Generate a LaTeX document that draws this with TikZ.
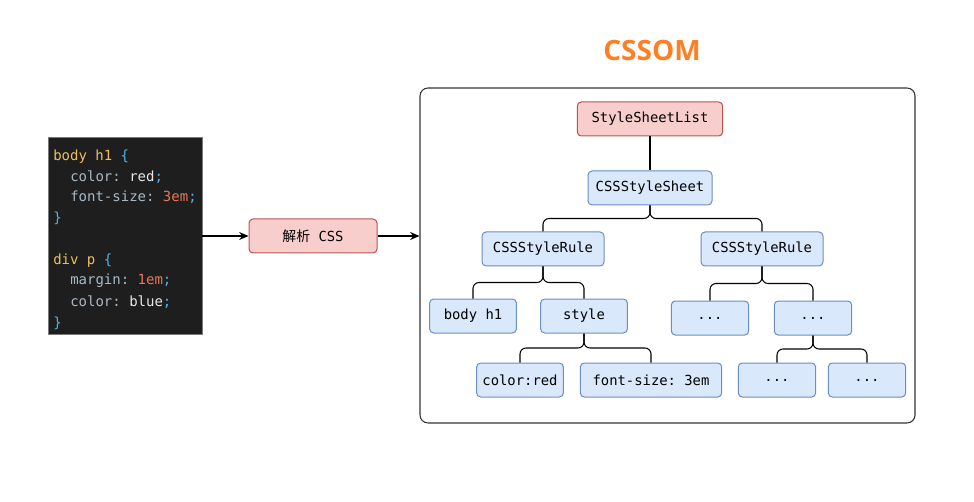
\documentclass[tikz,border=0pt]{standalone}
\usepackage{fontspec}
\usepackage{xcolor}
\usetikzlibrary{arrows.meta,calc}
\setmonofont{DejaVu Sans Mono}
\newfontfamily\cjk{Noto Sans CJK SC}
\newfontfamily\titlefont{Open Sans}

\definecolor{redfill}{HTML}{F8CECC}
\definecolor{redline}{HTML}{B85450}
\definecolor{bluefill}{HTML}{DAE8FC}
\definecolor{blueline}{HTML}{6C8EBF}
\definecolor{titleorange}{HTML}{FF7F24}
\definecolor{codebg}{HTML}{1E1E1E}
\definecolor{codeframe}{HTML}{7A7A7A}
\definecolor{csel}{HTML}{F2BD5C}
\definecolor{cbrace}{HTML}{4FB3E6}
\definecolor{cprop}{HTML}{A7BAC7}
\definecolor{cval}{HTML}{E8E8E8}
\definecolor{cnum}{HTML}{E8785A}

% colour helpers for the code lines
\newcommand\csel[1]{\textcolor{csel}{#1}}
\newcommand\cbr[1]{\textcolor{cbrace}{#1}}
\newcommand\cprop[1]{\textcolor{cprop}{#1}}
\newcommand\cval[1]{\textcolor{cval}{#1}}
\newcommand\cnum[1]{\textcolor{cnum}{#1}}

% parent-to-child tree link
\newcommand\branch[2]{\draw[link] (#1.south) |- ($(#1.south)!.5!(#2.north)$) -| (#2.north);}

\tikzset{
  tbox/.style={rounded corners=3pt, line width=0.75pt, minimum height=25.5pt,
    inner sep=2pt, font=\ttfamily\fontsize{10.4}{12}\selectfont},
  redbox/.style={tbox, draw=redline, fill=redfill},
  bluebox/.style={tbox, draw=blueline, fill=bluefill},
  codeline/.style={anchor=base west, inner sep=0pt, font=\ttfamily\fontsize{10.5}{12}\selectfont},
  link/.style={line width=0.8pt, rounded corners=4.5pt},
  arr/.style={line width=0.8pt, -{Stealth[length=7pt,width=6pt]}}
}

\begin{document}
\begin{tikzpicture}[x=0.75pt, y=-0.75pt]
  \useasboundingbox (0,0) rectangle (974,502);

  % title
  \node[font=\titlefont\bfseries\fontsize{21}{25}\selectfont, text=titleorange] (title) at (652,50) {CSSOM};

  % code panel
  \node[fill=codebg, draw=codeframe, line width=0.6pt, minimum width=115.5pt, minimum height=147.75pt] (code) at (125,235.5) {};
  \node[codeline] (c1) at (53,161) {\csel{body h1} \cbr{\{}};
  \node[codeline] (c2) at (70,182) {\cprop{color:} \cval{red}\cbr{;}};
  \node[codeline] (c3) at (70,202) {\cprop{font-size:} \cnum{3em}\cbr{;}};
  \node[codeline] (c4) at (53,223) {\cbr{\}}};
  \node[codeline] (c5) at (53,265) {\csel{div p} \cbr{\{}};
  \node[codeline] (c6) at (70,285) {\cprop{margin:} \cnum{1em}\cbr{;}};
  \node[codeline] (c7) at (70,306) {\cprop{color:} \cval{blue}\cbr{;}};
  \node[codeline] (c8) at (53,327) {\cbr{\}}};

  % parser
  \node[redbox, minimum width=96pt] (parse) at (313,236) {{\cjk 解析}~CSS};

  % CSSOM frame
  \node[draw=black!80, line width=0.8pt, rounded corners=6pt, minimum width=371.25pt, minimum height=251.25pt] (om) at (667.5,255.5) {};

  \draw[arr] (code.east |- parse) -- (parse.west);
  \draw[arr] (parse.east) -- (parse.east -| om.west);

  % tree nodes
  \node[redbox, minimum width=109pt] (list) at (650,119) {StyleSheetList};
  \node[bluebox, minimum width=93pt] (sheet) at (650,188) {CSSStyleSheet};
  \node[bluebox, minimum width=91.5pt] (ruleA) at (543,249) {CSSStyleRule};
  \node[bluebox, minimum width=91.5pt] (ruleB) at (762,249) {CSSStyleRule};
  \node[bluebox, minimum width=65pt] (sel) at (473,316) {body h1};
  \node[bluebox, minimum width=65pt] (style) at (584,316) {style};
  \node[bluebox, minimum width=58pt] (dotA) at (710,318) {...};
  \node[bluebox, minimum width=58pt] (dotB) at (813,318) {...};
  \node[bluebox, minimum width=65pt] (color) at (520,380) {color:red};
  \node[bluebox, minimum width=106pt] (size) at (651,380) {font-size: 3em};
  \node[bluebox, minimum width=58pt] (dotC) at (777,380) {...};
  \node[bluebox, minimum width=58pt] (dotD) at (867,380) {...};

  % links
  \draw[link] (list) -- (sheet);
  \branch{sheet}{ruleA}
  \branch{sheet}{ruleB}
  \branch{ruleA}{sel}
  \branch{ruleA}{style}
  \branch{ruleB}{dotA}
  \branch{ruleB}{dotB}
  \branch{style}{color}
  \branch{style}{size}
  \branch{dotB}{dotC}
  \branch{dotB}{dotD}
\end{tikzpicture}
\end{document}
